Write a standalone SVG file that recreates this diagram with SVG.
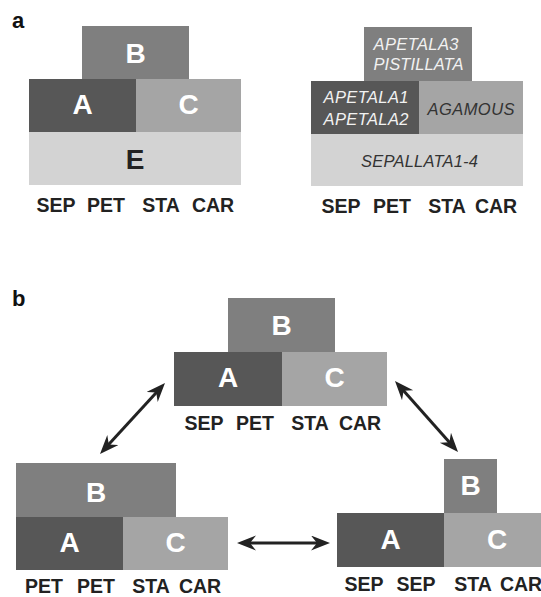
<svg xmlns="http://www.w3.org/2000/svg" width="541" height="597" viewBox="0 0 541 597">
<style>
.a{fill:#575757}.b{fill:#7f7f7f}.c{fill:#a5a5a5}.e{fill:#d3d3d3}
.big{font-family:"Liberation Sans",Arial,sans-serif;font-weight:bold;font-size:28px;fill:#fff;text-anchor:middle}
.dk{fill:#222}
.lab{font-family:"Liberation Sans",Arial,sans-serif;font-weight:bold;font-size:19.5px;fill:#222;text-anchor:middle}
.gene{font-family:"Liberation Sans",Arial,sans-serif;font-style:italic;font-size:16.5px;fill:#f2f2f2;text-anchor:middle}
.gd{fill:#333}
.pl{font-family:"Liberation Sans",Arial,sans-serif;font-weight:bold;font-size:22px;fill:#111}
.arr{stroke:#222;stroke-width:3;fill:none;marker-start:url(#ah);marker-end:url(#ah)}
</style>
<defs>
<marker id="ah" markerUnits="userSpaceOnUse" markerWidth="20" markerHeight="16" refX="11" refY="7.5" orient="auto-start-reverse" viewBox="0 0 20 16">
<path d="M19,7.5 L0,0 L6,7.5 L0,15 Z" fill="#222"/>
</marker>
</defs>
<text class="pl" x="12" y="28">a</text>
<text class="pl" x="12" y="306">b</text>

<g id="a-abc">
<rect class="b" x="82" y="26" width="107" height="53"/>
<rect class="a" x="29" y="79" width="107" height="53"/>
<rect class="c" x="136" y="79" width="105" height="53"/>
<rect class="e" x="29" y="132" width="212" height="53"/>
<text class="big" x="135.5" y="63">B</text>
<text class="big" x="82.5" y="114">A</text>
<text class="big" x="188.5" y="114">C</text>
<text class="big dk" x="135" y="169">E</text>
<text class="lab" x="56" y="212">SEP</text>
<text class="lab" x="106" y="212">PET</text>
<text class="lab" x="161" y="212">STA</text>
<text class="lab" x="213" y="212">CAR</text>
</g>

<g id="a-genes">
<rect class="b" x="364" y="27" width="108" height="54"/>
<rect class="a" x="311" y="81" width="108" height="53"/>
<rect class="c" x="419" y="81" width="104" height="53"/>
<rect class="e" x="311" y="134" width="212" height="52"/>
<text class="gene" x="416" y="50" textLength="85" lengthAdjust="spacing">APETALA3</text>
<text class="gene" x="418.5" y="70" textLength="90" lengthAdjust="spacing">PISTILLATA</text>
<text class="gene" x="366" y="103" textLength="85" lengthAdjust="spacing">APETALA1</text>
<text class="gene" x="366" y="125" textLength="85" lengthAdjust="spacing">APETALA2</text>
<text class="gene gd" x="471" y="115" textLength="87" lengthAdjust="spacing">AGAMOUS</text>
<text class="gene gd" x="419.5" y="167" textLength="117" lengthAdjust="spacing">SEPALLATA1-4</text>
<text class="lab" x="341" y="213">SEP</text>
<text class="lab" x="392" y="213">PET</text>
<text class="lab" x="447" y="213">STA</text>
<text class="lab" x="496" y="213">CAR</text>
</g>

<g id="b-top">
<rect class="b" x="228" y="298" width="107" height="54"/>
<rect class="a" x="174" y="352" width="108" height="54"/>
<rect class="c" x="282" y="352" width="105" height="54"/>
<text class="big" x="281.5" y="335">B</text>
<text class="big" x="228" y="387">A</text>
<text class="big" x="334.5" y="387">C</text>
<text class="lab" x="204" y="430">SEP</text>
<text class="lab" x="255" y="430">PET</text>
<text class="lab" x="310" y="430">STA</text>
<text class="lab" x="360" y="430">CAR</text>
</g>

<g id="b-left">
<rect class="b" x="16" y="463" width="160" height="54"/>
<rect class="a" x="16" y="517" width="107" height="53"/>
<rect class="c" x="123" y="517" width="105" height="53"/>
<text class="big" x="96" y="502">B</text>
<text class="big" x="69.5" y="552">A</text>
<text class="big" x="175.5" y="552">C</text>
<text class="lab" x="44" y="593">PET</text>
<text class="lab" x="96" y="593">PET</text>
<text class="lab" x="151" y="593">STA</text>
<text class="lab" x="200" y="593">CAR</text>
</g>

<g id="b-right">
<rect class="b" x="444" y="459" width="53" height="54"/>
<rect class="a" x="337" y="513" width="107" height="54"/>
<rect class="c" x="444" y="513" width="110" height="54"/>
<text class="big" x="470.5" y="495">B</text>
<text class="big" x="390.5" y="549">A</text>
<text class="big" x="497" y="549">C</text>
<text class="lab" x="364" y="591">SEP</text>
<text class="lab" x="416" y="591">SEP</text>
<text class="lab" x="473" y="591">STA</text>
<text class="lab" x="521" y="591">CAR</text>
</g>

<g id="connectors">
<line class="arr" x1="105.4" y1="448.1" x2="159.6" y2="388.9"/>
<line class="arr" x1="400.3" y1="387" x2="452.7" y2="446"/>
<line class="arr" x1="245" y1="543" x2="322" y2="543"/>
</g>
</svg>
